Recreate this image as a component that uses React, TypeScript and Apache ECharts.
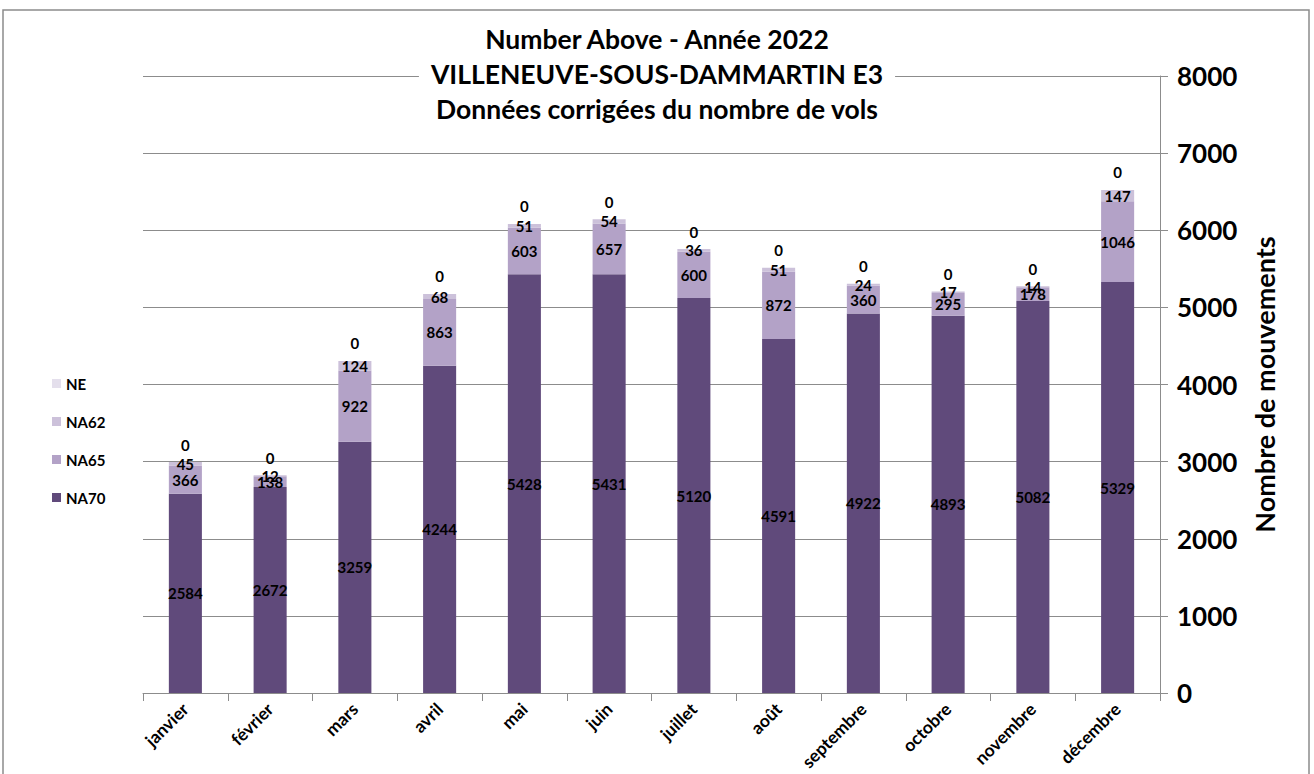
import React, { useEffect, useRef } from "react";
import * as echarts from "echarts";

const months = ["janvier", "février", "mars", "avril", "mai", "juin", "juillet", "août", "septembre", "octobre", "novembre", "décembre"];
const na70 = [2584, 2672, 3259, 4244, 5428, 5431, 5120, 4591, 4922, 4893, 5082, 5329];
const na65 = [366, 138, 922, 863, 603, 657, 600, 872, 360, 295, 178, 1046];
const na62 = [45, 12, 124, 68, 51, 54, 36, 51, 24, 17, 14, 147];
const ne = [0, 0, 0, 0, 0, 0, 0, 0, 0, 0, 0, 0];
const yTicks = [0, 1000, 2000, 3000, 4000, 5000, 6000, 7000, 8000];

const FONT = "Lato, 'Open Sans', sans-serif";

export default function App() {
  const ref = useRef<HTMLDivElement>(null);
  useEffect(() => {
    document.body.style.margin = "0";
    const chart = echarts.init(ref.current!, null, { renderer: "svg" });
    const lbl = (pos: string) => ({
      show: true,
      position: pos,
      color: "#000",
      fontSize: 15,
      fontWeight: "bold",
      fontFamily: FONT,
    });
    chart.setOption({
      animation: false,
      backgroundColor: "#fff",
      title: {
        text: "Number Above - Année 2022\nVILLENEUVE-SOUS-DAMMARTIN E3\nDonnées corrigées du nombre de vols",
        left: "center",
        top: 19,
        backgroundColor: "#fff",
        padding: [2, 12],
        textStyle: {
          fontFamily: FONT,
          fontSize: 26.5,
          fontWeight: "bold",
          color: "#000",
          lineHeight: 35,
        },
      },
      legend: {
        orient: "vertical",
        left: 47,
        top: 371,
        itemGap: 23,
        itemWidth: 9,
        itemHeight: 9,
        icon: "rect",
        data: ["NE", "NA62", "NA65", "NA70"],
        textStyle: { fontFamily: FONT, fontSize: 15, fontWeight: "bold", color: "#000" },
      },
      graphic: [
        {
          type: "rect",
          shape: { x: 3, y: 10, width: 1306, height: 780 },
          style: { fill: "none", stroke: "#8c8c8c", lineWidth: 1.5 },
          silent: true,
        },
      ],
      grid: { left: 143, right: 154, top: 76, bottom: 81 },
      xAxis: {
        type: "category",
        data: months,
        axisLine: { lineStyle: { color: "#8c8c8c" } },
        axisTick: { show: true, length: 8, lineStyle: { color: "#8c8c8c" } },
        axisLabel: {
          rotate: 45,
          interval: 0,
          fontFamily: FONT,
          fontSize: 17.5,
          fontWeight: "bold",
          color: "#000",
          margin: 13,
        },
      },
      yAxis: {
        type: "value",
        position: "right",
        min: 0,
        max: yTicks[yTicks.length - 1],
        interval: 1000,
        name: "Nombre de mouvements",
        nameLocation: "middle",
        nameRotate: 90,
        nameGap: 91,
        nameTextStyle: { fontFamily: FONT, fontSize: 27, fontWeight: "bold", color: "#000" },
        axisLine: { show: true, lineStyle: { color: "#8c8c8c" } },
        axisTick: { show: true, length: 8, lineStyle: { color: "#8c8c8c" } },
        axisLabel: {
          fontFamily: FONT,
          fontSize: 26,
          fontWeight: "bold",
          color: "#000",
          margin: 17,
          formatter: (v: number) => String(v),
        },
        splitLine: { show: true, lineStyle: { color: "#8c8c8c" } },
      },
      series: [
        { name: "NA70", type: "bar", stack: "t", data: na70, barWidth: "39%", itemStyle: { color: "#604a7b" }, label: lbl("inside") },
        { name: "NA65", type: "bar", stack: "t", data: na65, itemStyle: { color: "#b3a2c7" }, label: lbl("inside") },
        { name: "NA62", type: "bar", stack: "t", data: na62, itemStyle: { color: "#ccc1da" }, label: lbl("inside") },
        { name: "NE", type: "bar", stack: "t", data: ne, itemStyle: { color: "#e4dfec" }, label: { ...lbl("top"), distance: 10 } },
      ],
    });
    return () => chart.dispose();
  }, []);
  return <div ref={ref} style={{ width: 1314, height: 774 }} />;
}
